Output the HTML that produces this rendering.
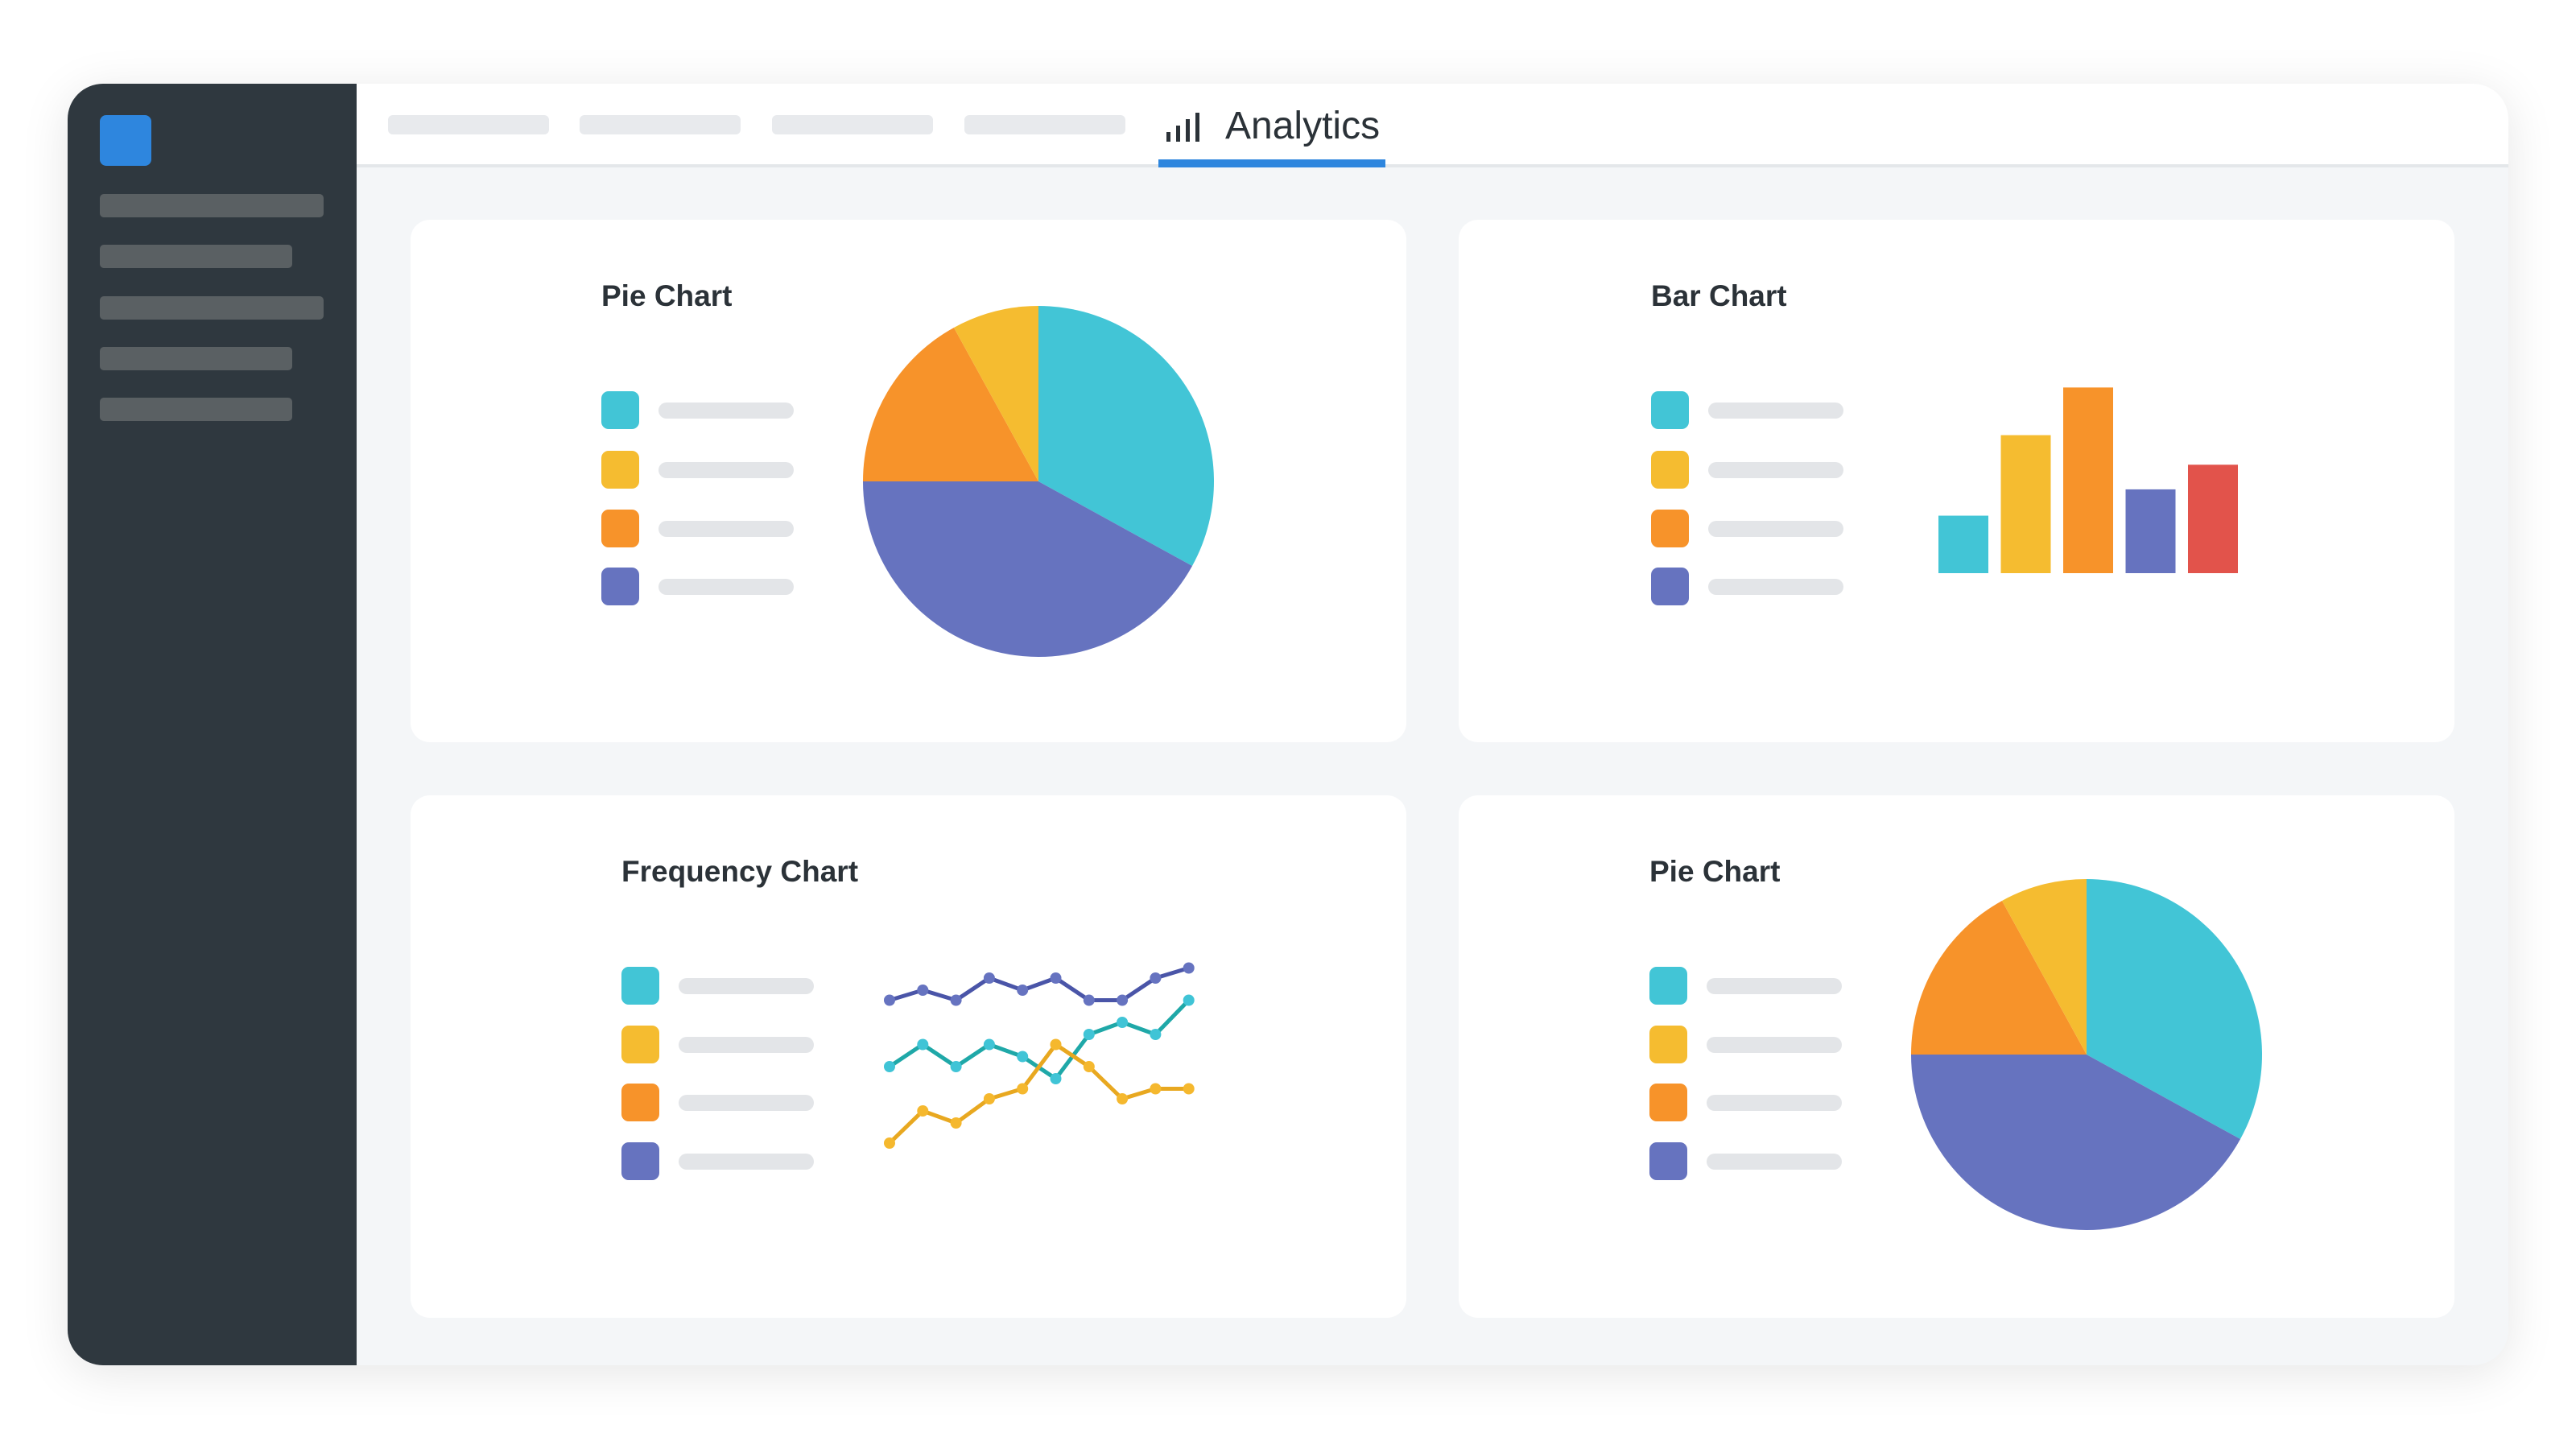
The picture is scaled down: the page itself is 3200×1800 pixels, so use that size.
<!DOCTYPE html>
<html><head><meta charset="utf-8"><style>
*{margin:0;padding:0;box-sizing:border-box}
body{width:3200px;height:1800px;background:#fff;position:relative;overflow:hidden;font-family:"Liberation Sans",sans-serif}
.a{position:absolute}
.frame{left:84px;top:104px;width:3032px;height:1592px;border-radius:44px;background:#f4f6f8;overflow:hidden;box-shadow:0 10px 60px rgba(0,0,0,0.10)}
.side{left:0;top:0;width:359px;height:1592px;background:#2f383f}
.sbar{height:29px;border-radius:5px;background:#5a6063;left:40px}
.top{left:359px;top:0;width:2673px;height:104px;background:#fff;border-bottom:4px solid #e4e7ea}
.tab{top:39px;width:200px;height:24px;border-radius:6px;background:#e8eaed}
.card{background:#fff;border-radius:24px}
.title{font-weight:bold;font-size:37px;color:#2b3238}
</style></head><body>
<div class="a frame">
  <div class="a side">
    <div class="a" style="left:40px;top:39px;width:64px;height:63px;border-radius:8px;background:#2e86de"></div>
    <div class="a sbar" style="top:137px;width:278px"></div>
    <div class="a sbar" style="top:200px;width:239px"></div>
    <div class="a sbar" style="top:264px;width:278px"></div>
    <div class="a sbar" style="top:327px;width:239px"></div>
    <div class="a sbar" style="top:390px;width:239px"></div>
  </div>
  <div class="a top">
    <div class="a tab" style="left:39px"></div>
    <div class="a tab" style="left:277px"></div>
    <div class="a tab" style="left:516px"></div>
    <div class="a tab" style="left:755px"></div>
    <div class="a" style="left:996px;top:0;width:282px;height:104px">
      <svg class="a" style="left:10px;top:34px" width="44" height="40">
        <rect x="0" y="26" width="5" height="12" fill="#2b3238"/><rect x="12" y="18" width="5" height="20" fill="#2b3238"/><rect x="24" y="10" width="5" height="28" fill="#2b3238"/><rect x="36" y="2" width="5" height="36" fill="#2b3238"/>
      </svg>
      <div class="a" style="left:83px;top:24px;font-size:48px;color:#2b3238;line-height:58px">Analytics</div>
      <div class="a" style="left:0;top:94px;width:282px;height:10px;background:#2e86de"></div>
    </div>
  </div>
</div>
<div class="a card" style="left:510px;top:273px;width:1237px;height:649px"></div>
<div class="a card" style="left:1812px;top:273px;width:1237px;height:649px"></div>
<div class="a card" style="left:510px;top:988px;width:1237px;height:649px"></div>
<div class="a card" style="left:1812px;top:988px;width:1237px;height:649px"></div>
<div class="a title" style="left:747px;top:347px">Pie Chart</div>
<div class="a title" style="left:2051px;top:347px">Bar Chart</div>
<div class="a title" style="left:772px;top:1062px">Frequency Chart</div>
<div class="a title" style="left:2049px;top:1062px">Pie Chart</div>
<svg id="ov" class="a" style="left:0;top:0" width="3200" height="1800"></svg>
<script>
const pieValues=[33,42,17,8];
const pieColors=['#42c5d6','#6673bf','#f7932a','#f5bc30'];
const barCategories=['A','B','C','D','E'];
const barValues=[35,84,113,51,66];
const barColors=['#42c5d6','#f5bc30','#f7932a','#6673bf','#e2534b'];
const freqX=[1,2,3,4,5,6,7,8,9,10];
const freqPurple=[83,88,83,94,88,94,83,83,94,99];
const freqCyan=[50,61,50,61,55,44,66,72,66,83];
const freqYellow=[12,28,22,34,39,61,50,34,39,39];
const legendColors=['#42c5d6','#f5bc30','#f7932a','#6673bf'];
const NS='http://www.w3.org/2000/svg';
const ov=document.getElementById('ov');
function mk(t,a,name){const e=document.createElementNS(NS,t);for(const k in a)e.setAttribute(k,a[k]);


ov.appendChild(e);return e;}
function legend(x,ys,pref){ys.forEach((y,i)=>{
mk('rect',{x:x,y:y-24,width:47,height:47,rx:9,fill:legendColors[i]},pref+'-legend-swatch-'+(i+1));
mk('rect',{x:x+71,y:y-10,width:168,height:20,rx:10,fill:'#e3e5e8'},pref+'-legend-label-'+(i+1));});}
legend(747,[510,584,657,729],'pie1');
legend(2051,[510,584,657,729],'bar');
legend(772,[1225,1298,1370,1443],'freq');
legend(2049,[1225,1298,1370,1443],'pie2');
function pie(cx,cy,r,pref){const tot=pieValues.reduce((a,b)=>a+b,0);let a0=0;
pieValues.forEach((v,i)=>{const a1=a0+v/tot*2*Math.PI;
const p=(a)=>[cx+r*Math.sin(a),cy-r*Math.cos(a)];const [x0,y0]=p(a0),[x1,y1]=p(a1);
mk('path',{d:`M${cx},${cy}L${x0},${y0}A${r},${r} 0 ${a1-a0>Math.PI?1:0} 1 ${x1},${y1}Z`,fill:pieColors[i]},pref+'-slice-'+(i+1));a0=a1;});}
pie(1290,598,218,'pie1');
pie(2592,1310,218,'pie2');
const bx=(i)=>2408+i*77.5, by=(v)=>712-v*2.041;
barValues.forEach((v,i)=>mk('rect',{x:bx(i),y:by(v),width:62,height:712-by(v),fill:barColors[i]},'bar-'+barCategories[i]));
const fx=(i)=>1105+(i-1)*41.3, fy=(v)=>1450-v*2.5;
function series(vals,lc,dc,name){mk('polyline',{points:vals.map((v,i)=>fx(freqX[i])+','+fy(v)).join(' '),fill:'none',stroke:lc,'stroke-width':5,'stroke-linejoin':'round'},name+'-line');
vals.forEach((v,i)=>mk('circle',{cx:fx(freqX[i]),cy:fy(v),r:7,fill:dc},name+'-point-'+(i+1)));}
series(freqPurple,'#4a55a8','#6673c0','purple-series');
series(freqCyan,'#1fa8a8','#40c4d6','cyan-series');
series(freqYellow,'#e8a820','#f5b82e','yellow-series');
</script>
</body></html>
